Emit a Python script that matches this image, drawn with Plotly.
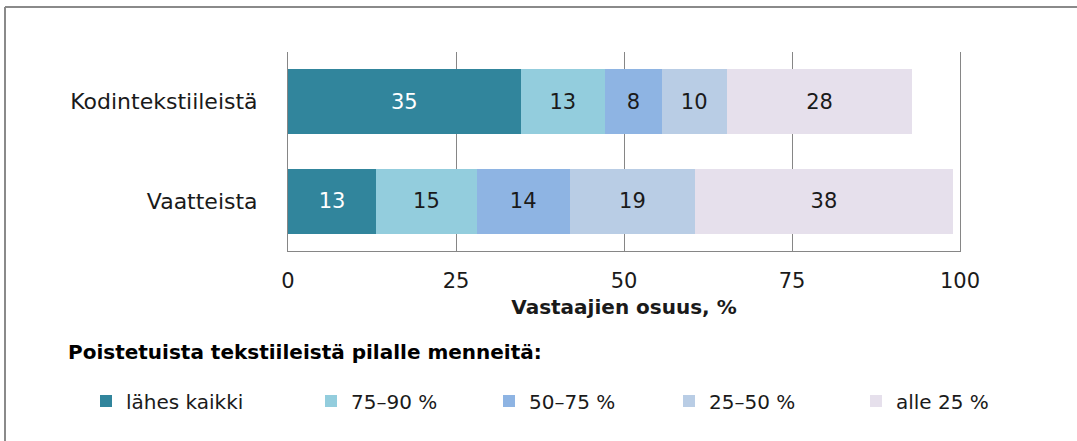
import plotly.graph_objects as go

categories = ["Kodintekstiileistä", "Vaatteista"]
series_names = ["lähes kaikki", "75–90 %", "50–75 %", "25–50 %", "alle 25 %"]
lahes_kaikki = [34.6, 13.1]
p75_90 = [12.6, 15.0]
p50_75 = [8.4, 13.8]
p25_50 = [9.7, 18.7]
alle_25 = [27.6, 38.3]
x_ticks = [0, 25, 50, 75, 100]

series_values = [lahes_kaikki, p75_90, p50_75, p25_50, alle_25]
colors = ["#31859C", "#93CDDD", "#8EB4E3", "#B9CDE5", "#E6E0EC"]
text_colors = ["white", "#1a1a1a", "#1a1a1a", "#1a1a1a", "#1a1a1a"]
legend_ids = ["legend", "legend2", "legend3", "legend4", "legend5"]
legend_left_px = [86, 311, 489, 669, 856]

FONT = "DejaVu Sans"

fig = go.Figure()
for name, vals, col, tcol, lid in zip(series_names, series_values, colors,
                                      text_colors, legend_ids):
    fig.add_trace(go.Bar(
        y=categories, x=vals, name=name, orientation="h",
        marker=dict(color=col, line=dict(width=0)),
        texttemplate="%{x:.0f}", textposition="inside",
        insidetextanchor="middle", textangle=0,
        textfont=dict(family=FONT, size=21, color=tcol),
        hoverinfo="skip", legend=lid,
    ))

W, H = 1077, 441
L, R, T, B = 288, 117, 52, 190
pw, ph = W - L - R, H - T - B

def px(xp):
    return (xp - L) / pw

def py(yp):
    return (H - B - yp) / ph

legends = {}
for lid, lx in zip(legend_ids, legend_left_px):
    legends[lid] = dict(
        orientation="h", x=px(lx), xanchor="left", y=py(401), yanchor="middle",
        font=dict(family=FONT, size=20, color="#1a1a1a"),
        bgcolor="rgba(0,0,0,0)",
    )

fig.update_layout(
    width=W, height=H,
    margin=dict(l=L, r=R, t=T, b=B, pad=0),
    barmode="stack", bargap=0.35,
    plot_bgcolor="white", paper_bgcolor="white",
    font=dict(family=FONT, size=20, color="#1a1a1a"),
    showlegend=True,
    xaxis=dict(
        range=[0, 100], tickvals=x_ticks, showgrid=True,
        gridcolor="#868686", gridwidth=1, zeroline=False,
        showline=True, linecolor="#868686", linewidth=1,
        ticks="", ticklabelstandoff=11,
        tickfont=dict(family=FONT, size=21, color="#1a1a1a"),
        title=dict(text="<b>Vastaajien osuus, %</b>", standoff=7,
                   font=dict(family=FONT, size=20, color="#1a1a1a")),
        fixedrange=True,
    ),
    yaxis=dict(
        autorange="reversed", showgrid=False, zeroline=False,
        showline=True, mirror=True, linecolor="#868686", linewidth=1,
        ticks="", ticklabelstandoff=25,
        tickfont=dict(family=FONT, size=22, color="#1a1a1a"),
        fixedrange=True,
    ),
    annotations=[dict(
        text="<b>Poistetuista tekstiileistä pilalle menneitä:</b>",
        xref="paper", yref="paper", x=px(66), y=py(352),
        xanchor="left", yanchor="middle", showarrow=False,
        font=dict(family=FONT, size=20, color="black"),
    )],
    shapes=[
        dict(type="line", xref="paper", yref="paper",
             x0=px(5), x1=px(W + 5), y0=py(7), y1=py(7),
             line=dict(color="#8a8a8a", width=2)),
        dict(type="line", xref="paper", yref="paper",
             x0=px(5), x1=px(5), y0=py(7), y1=py(H + 5),
             line=dict(color="#8a8a8a", width=2)),
    ],
    **legends,
)

fig.write_html("out.html", config={"displayModeBar": False},
               post_script="document.body.style.margin='0';")
